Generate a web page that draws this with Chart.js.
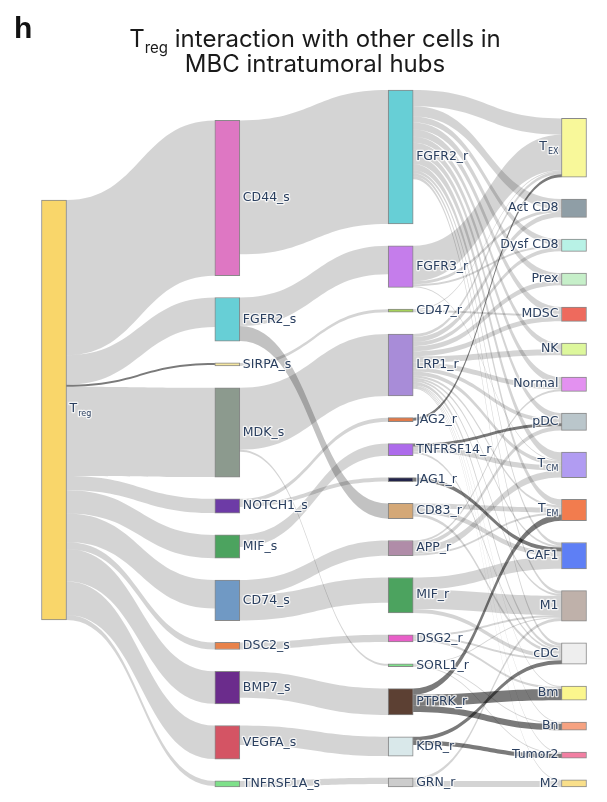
<!DOCTYPE html>
<html>
<head>
<meta charset="utf-8">
<script src="https://cdn.jsdelivr.net/npm/chart.js@4.4.1/dist/chart.umd.min.js"></script>
<style>
html,body{margin:0;padding:0;background:#ffffff;}
#wrap{width:607px;height:802px;position:relative;}
</style>
</head>
<body>
<div id="wrap"><canvas id="c" width="607" height="802"></canvas></div>
<script>
// ---------------- DATA ----------------
const SOURCE_CELL = 'Treg';
const LIGANDS = ['CD44_s','FGFR2_s','SIRPA_s','MDK_s','NOTCH1_s','MIF_s','CD74_s','DSC2_s','BMP7_s','VEGFA_s','TNFRSF1A_s'];
const RECEPTORS = ['FGFR2_r','FGFR3_r','CD47_r','LRP1_r','JAG2_r','TNFRSF14_r','JAG1_r','CD83_r','APP_r','MIF_r','DSG2_r','SORL1_r','PTPRK_r','KDR_r','GRN_r'];
const TARGET_CELLS = ['Tex','Act CD8','Dysf CD8','Prex','MDSC','NK','Normal','pDC','Tcm','Tem','CAF1','M1','cDC','Bm','Bn','Tumor2','M2'];

// Treg -> sender genes (same order as LIGANDS)
const TREG_TO_LIGAND = [153, 29, 2, 88, 14, 23, 28, 7, 32, 33, 5];

// sender gene -> receiver gene
const LR_SOURCE = ['CD44_s','FGFR2_s','FGFR2_s','SIRPA_s','MDK_s','MDK_s','NOTCH1_s','NOTCH1_s','MIF_s','CD74_s','CD74_s','DSC2_s','BMP7_s','VEGFA_s','TNFRSF1A_s'];
const LR_TARGET = ['FGFR2_r','FGFR3_r','CD83_r','CD47_r','LRP1_r','SORL1_r','JAG2_r','JAG1_r','TNFRSF14_r','MIF_r','APP_r','DSG2_r','PTPRK_r','KDR_r','GRN_r'];
const LR_VALUE  = [132, 28, 15, 3, 61, 2, 4, 4, 12, 25, 15, 7, 26, 19, 6];

// receiver gene -> target cell
const RC_SOURCE = [
  'FGFR2_r','FGFR2_r','FGFR2_r','FGFR2_r','FGFR2_r','FGFR2_r','FGFR2_r','FGFR2_r','FGFR2_r','FGFR2_r','FGFR2_r','FGFR2_r','FGFR2_r',
  'FGFR3_r','FGFR3_r','FGFR3_r','FGFR3_r',
  'CD47_r','CD47_r',
  'LRP1_r','LRP1_r','LRP1_r','LRP1_r','LRP1_r','LRP1_r','LRP1_r','LRP1_r','LRP1_r','LRP1_r','LRP1_r','LRP1_r','LRP1_r','LRP1_r','LRP1_r','LRP1_r','LRP1_r',
  'JAG2_r',
  'TNFRSF14_r','TNFRSF14_r','TNFRSF14_r',
  'JAG1_r',
  'CD83_r','CD83_r','CD83_r',
  'APP_r','APP_r','APP_r','APP_r',
  'MIF_r','MIF_r','MIF_r',
  'DSG2_r','DSG2_r','DSG2_r',
  'SORL1_r','SORL1_r','SORL1_r',
  'PTPRK_r','PTPRK_r','PTPRK_r',
  'KDR_r','KDR_r',
  'GRN_r','GRN_r'
];
const RC_TARGET = [
  'Tex','Act CD8','Dysf CD8','Prex','MDSC','NK','Normal','pDC','Tcm','Tem','CAF1','M1','cDC',
  'Tex','Act CD8','Dysf CD8','Tcm',
  'Tex','MDSC',
  'Tex','Act CD8','Dysf CD8','Prex','MDSC','NK','Normal','pDC','Tcm','Tem','CAF1','M1','cDC','Bm','Bn','Tumor2','M2',
  'Tex',
  'pDC','Tcm','cDC',
  'CAF1',
  'Tem','CAF1','cDC',
  'Normal','pDC','Tcm','Tem',
  'CAF1','M1','cDC',
  'M1','cDC','Bm',
  'M1','Bn','Tumor2',
  'Tem','Bm','Bn',
  'cDC','Tumor2',
  'M1','M2'
];
const RC_VALUE = [
  16, 10, 6, 7, 7, 6, 7, 6, 8, 6, 3, 3, 3,
  35, 3, 2, 1,
  1, 2,
  3, 5, 4, 5, 5, 6, 5, 4, 4, 2, 2, 2, 3, 1, 1, 1, 1,
  3,
  3, 5, 2,
  4,
  5, 5, 3,
  2, 4, 7, 2,
  12, 19, 4,
  2, 2, 2,
  1, 1, 1,
  6, 11, 6,
  4, 4,
  3, 6
];

// ---------------- STYLE ----------------
const NODE_PAD = 21.5;      // gap between nodes, in value units
const BAR_PX = 25;          // node thickness in pixels
const LABEL_FONT = '12.5px "DejaVu Sans", Verdana, sans-serif';
const LABEL_COLOR = '#2a3f5f';
const LINK_LIGHT = 'rgba(0,0,0,0.17)';
const LINK_MEDIUM = 'rgba(0,0,0,0.24)';
const LINK_DARK = 'rgba(0,0,0,0.52)';
const MEDIUM_LINKS = ['FGFR2_s>CD83_r'];
const DARK_LINKS = ['Treg>SIRPA_s','JAG2_r>Tex','TNFRSF14_r>pDC','JAG1_r>CAF1','PTPRK_r>Tem','PTPRK_r>Bm','PTPRK_r>Bn','KDR_r>cDC','KDR_r>Tumor2'];
const NODE_COLORS = {
  'Treg':'#F9D66A',
  'CD44_s':'#DE77C3','FGFR2_s':'#67CFD6','SIRPA_s':'#F5E6A0','MDK_s':'#8C9A8E','NOTCH1_s':'#6D3BA6',
  'MIF_s':'#4CA35F','CD74_s':'#7099C4','DSC2_s':'#E8824A','BMP7_s':'#6B2C8C','VEGFA_s':'#D45464','TNFRSF1A_s':'#7EE08A',
  'FGFR2_r':'#67CFD6','FGFR3_r':'#C57DEB','CD47_r':'#A6D25A','LRP1_r':'#A88CD8','JAG2_r':'#E07A4A','TNFRSF14_r':'#AD6BEB',
  'JAG1_r':'#23244A','CD83_r':'#D4A877','APP_r':'#B08CA8','MIF_r':'#4CA35F','DSG2_r':'#E85FC8','SORL1_r':'#7EE08A',
  'PTPRK_r':'#5C4033','KDR_r':'#D9E8EA','GRN_r':'#CCCCCC',
  'Tex':'#F8F89A','Act CD8':'#8F9EA6','Dysf CD8':'#B8F2E6','Prex':'#C6EFC9','MDSC':'#EE6A5D','NK':'#DDF79C',
  'Normal':'#E391F0','pDC':'#BAC6CB','Tcm':'#B19CF2','Tem':'#F27C4E','CAF1':'#5E7FF5','M1':'#BFB1AA',
  'cDC':'#EEEEEE','Bm':'#FBF68D','Bn':'#F6A281','Tumor2':'#F27FA2','M2':'#F9DF8A'
};
const SUB_LABELS = { 'Treg':['T','reg'], 'Tex':['T','EX'], 'Tcm':['T','CM'], 'Tem':['T','EM'] };

// ---------------- LAYOUT (value units) ----------------
const columns = [[SOURCE_CELL], LIGANDS, RECEPTORS, TARGET_CELLS];
const nodes = {};
const nodeList = [];
columns.forEach((list, c) => list.forEach((name, i) => {
  const n = {name, col:c, idx:i, inV:0, outV:0, ins:[], outs:[]};
  nodes[name] = n; nodeList.push(n);
}));
const links = [];
function addLink(s, t, v) {
  const l = {s:nodes[s], t:nodes[t], v, key:s+'>'+t};
  links.push(l);
  nodes[s].outV += v; nodes[t].inV += v;
  nodes[s].outs.push(l); nodes[t].ins.push(l);
}
LIGANDS.forEach((g, i) => addLink(SOURCE_CELL, g, TREG_TO_LIGAND[i]));
LR_SOURCE.forEach((s, i) => addLink(s, LR_TARGET[i], LR_VALUE[i]));
RC_SOURCE.forEach((s, i) => addLink(s, RC_TARGET[i], RC_VALUE[i]));
nodeList.forEach(n => n.value = Math.max(n.inV, n.outV));

const colTotals = columns.map(list => list.reduce((a, nm) => a + nodes[nm].value, 0) + (list.length - 1) * NODE_PAD);
const EXTENT = Math.max(...colTotals);
for (let c = 1; c < columns.length; c++) {
  let y = EXTENT;
  for (let i = columns[c].length - 1; i >= 0; i--) {
    const n = nodes[columns[c][i]];
    n.y1 = y; n.y0 = y - n.value; y = n.y0 - NODE_PAD;
  }
}
{
  const n = nodes[SOURCE_CELL];
  let sw = 0, sv = 0;
  n.outs.forEach(l => { sw += l.v * (l.t.y0 + l.t.y1) / 2; sv += l.v; });
  const ctr = sw / sv;
  n.y0 = ctr - n.value / 2; n.y1 = ctr + n.value / 2;
}
nodeList.forEach(n => {
  const mid = m => (m.y0 + m.y1) / 2;
  n.outs.sort((a, b) => mid(a.t) - mid(b.t));
  n.ins.sort((a, b) => mid(a.s) - mid(b.s));
  let y = n.y0; n.outs.forEach(l => { l.sy = y; y += l.v; });
  y = n.y0; n.ins.forEach(l => { l.ty = y; y += l.v; });
});

// ---------------- PLUGINS ----------------
const linkPlugin = {
  id: 'sankeyLinks',
  beforeDatasetsDraw(chart) {
    const {ctx} = chart; const xs = chart.scales.x, ys = chart.scales.y;
    const half = BAR_PX / 2;
    const groups = [[], [], []];
    links.forEach(l => {
      if (DARK_LINKS.includes(l.key)) groups[2].push(l);
      else if (MEDIUM_LINKS.includes(l.key)) groups[1].push(l);
      else groups[0].push(l);
    });
    const colors = [LINK_LIGHT, LINK_MEDIUM, LINK_DARK];
    ctx.save();
    groups.forEach((g, gi) => {
      ctx.fillStyle = colors[gi];
      g.forEach(l => {
        const x0 = xs.getPixelForValue(l.s.col) + half;
        const x1 = xs.getPixelForValue(l.t.col) - half;
        const xm = (x0 + x1) / 2;
        const a0 = ys.getPixelForValue(l.sy), b0 = ys.getPixelForValue(l.sy + l.v);
        const a1 = ys.getPixelForValue(l.ty), b1 = ys.getPixelForValue(l.ty + l.v);
        ctx.beginPath();
        ctx.moveTo(x0, a0);
        ctx.bezierCurveTo(xm, a0, xm, a1, x1, a1);
        ctx.lineTo(x1, b1);
        ctx.bezierCurveTo(xm, b1, xm, b0, x0, b0);
        ctx.closePath();
        ctx.fill();
      });
    });
    ctx.restore();
  }
};

function drawLabel(ctx, name, x, y, align) {
  const sub = SUB_LABELS[name];
  ctx.font = LABEL_FONT;
  ctx.textBaseline = 'middle';
  ctx.lineJoin = 'round';
  ctx.strokeStyle = 'rgba(255,255,255,0.75)';
  ctx.lineWidth = 2.5;
  ctx.fillStyle = LABEL_COLOR;
  if (!sub) {
    ctx.textAlign = align;
    ctx.strokeText(name, x, y);
    ctx.fillText(name, x, y);
    return;
  }
  ctx.textAlign = 'left';
  const mainFont = LABEL_FONT;
  const subFont = '8px "DejaVu Sans", Verdana, sans-serif';
  ctx.font = mainFont; const w1 = ctx.measureText(sub[0]).width;
  ctx.font = subFont; const w2 = ctx.measureText(sub[1]).width;
  const start = align === 'right' ? x - (w1 + w2 + 1) : x;
  ctx.font = mainFont;
  ctx.strokeText(sub[0], start, y - 1); ctx.fillText(sub[0], start, y - 1);
  ctx.font = subFont;
  ctx.strokeText(sub[1], start + w1 + 1, y + 4); ctx.fillText(sub[1], start + w1 + 1, y + 4);
}

const labelPlugin = {
  id: 'sankeyLabels',
  afterDatasetsDraw(chart) {
    const {ctx} = chart; const xs = chart.scales.x, ys = chart.scales.y;
    const half = BAR_PX / 2;
    ctx.save();
    nodeList.forEach(n => {
      const cx = xs.getPixelForValue(n.col);
      const cy = ys.getPixelForValue((n.y0 + n.y1) / 2);
      if (n.col === columns.length - 1) drawLabel(ctx, n.name, cx - half - 3, cy, 'right');
      else drawLabel(ctx, n.name, cx + half + 3, cy, 'left');
    });
    ctx.restore();
  }
};

const titlePlugin = {
  id: 'titleText',
  afterDraw(chart) {
    const {ctx} = chart;
    ctx.save();
    ctx.fillStyle = '#111111';
    ctx.textBaseline = 'alphabetic';
    ctx.textAlign = 'left';
    ctx.font = 'bold 30px "Liberation Sans", Arial, sans-serif';
    ctx.fillText('h', 14, 38);
    const cx = 315;
    const big = '400 24px Inter, Roboto, sans-serif';
    const small = '400 15px Inter, Roboto, sans-serif';
    const rest = ' interaction with other cells in';
    ctx.font = big; const wT = ctx.measureText('T').width; const wR = ctx.measureText(rest).width;
    ctx.font = small; const wS = ctx.measureText('reg').width;
    let x = cx - (wT + wS + wR) / 2;
    ctx.fillStyle = '#1a1a1a';
    ctx.font = big; ctx.fillText('T', x, 47); x += wT;
    ctx.font = small; ctx.fillText('reg', x, 53); x += wS;
    ctx.font = big; ctx.fillText(rest, x, 47);
    ctx.textAlign = 'center';
    ctx.fillText('MBC intratumoral hubs', cx, 72);
    ctx.restore();
  }
};

// ---------------- CHART ----------------
new Chart(document.getElementById('c').getContext('2d'), {
  type: 'bar',
  data: {
    datasets: [{
      data: nodeList.map(n => ({x: n.col, y: [n.y0, n.y1]})),
      backgroundColor: nodeList.map(n => NODE_COLORS[n.name]),
      borderColor: 'rgba(40,40,40,0.55)',
      borderWidth: 1,
      borderSkipped: false,
      barThickness: BAR_PX,
      clip: false
    }]
  },
  options: {
    responsive: false,
    animation: false,
    events: [],
    layout: {padding: {left: 54, right: 33, top: 90, bottom: 15}},
    scales: {
      x: {type: 'linear', min: 0, max: columns.length - 1, display: false, offset: false},
      y: {type: 'linear', reverse: true, min: 0, max: EXTENT, display: false}
    },
    plugins: {legend: {display: false}, tooltip: {enabled: false}, title: {display: false}}
  },
  plugins: [linkPlugin, labelPlugin, titlePlugin]
});
</script>
</body>
</html>
